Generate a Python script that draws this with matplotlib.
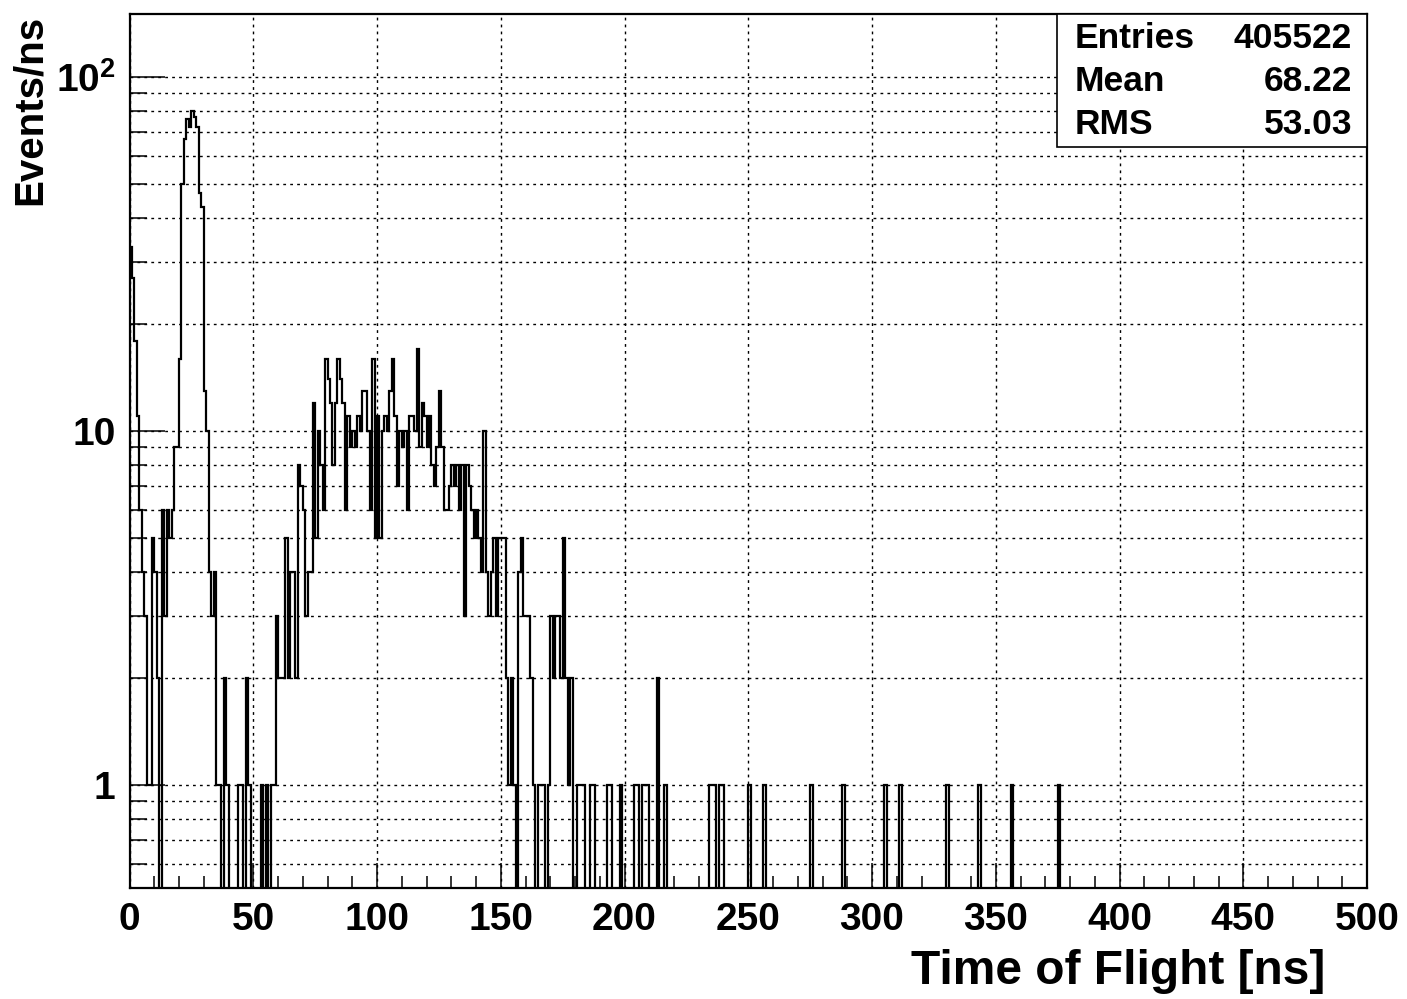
import numpy as np
import matplotlib
matplotlib.use("Agg")
import matplotlib.pyplot as plt
from matplotlib.patches import Rectangle
from matplotlib.ticker import MultipleLocator, FixedLocator, LogLocator, NullFormatter

# counts per 1 ns bin, bins 0..187
counts_head = [
    33, 27, 18, 11, 6, 4, 3, 1, 1, 5,
    4, 2, 0, 6, 3, 6, 5, 6, 9, 9,
    16, 50, 67, 76, 72, 80, 77, 72, 47, 43,
    13, 10, 4, 3, 4, 1, 1, 0, 2, 1,
    0, 0, 0, 0, 1, 1, 0, 2, 1, 0,
    0, 0, 0, 1, 0, 1, 0, 1, 1, 3,
    2, 2, 2, 5, 2, 4, 4, 2, 8, 7,
    6, 3, 4, 4, 12, 5, 10, 8, 6, 16,
    14, 12, 8, 12, 16, 14, 12, 6, 11, 9,
    10, 9, 11, 10, 13, 13, 10, 6, 16, 5,
    11, 5, 10, 11, 10, 13, 16, 11, 7, 10,
    9, 10, 6, 11, 11, 10, 17, 9, 12, 11,
    9, 11, 8, 7, 9, 13, 9, 6, 6, 7,
    8, 7, 8, 6, 8, 3, 8, 7, 6, 5,
    6, 5, 4, 10, 4, 3, 4, 5, 3, 5,
    5, 5, 2, 1, 2, 1, 0, 4, 5, 3,
    3, 3, 2, 1, 0, 1, 1, 1, 0, 1,
    3, 2, 3, 3, 2, 5, 2, 1, 2, 0,
    0, 1, 1, 1, 0, 0, 1, 1,
]
# sparse tail
tail_bins = [193, 194, 198, 204, 205, 207, 208, 209, 213, 216, 234, 235, 236,
             238, 239, 250, 256, 275, 288, 305, 311, 330, 343, 356, 375]
tail_counts = [1, 1, 1, 1, 1, 1, 1, 1, 2, 1, 1, 1, 1,
               1, 1, 1, 1, 1, 1, 1, 1, 1, 1, 1, 1]

stats_names = ["Entries", "Mean", "RMS"]
stats_values = ["405522", "68.22", "53.03"]

plt.rcParams["font.family"] = ["Liberation Sans", "DejaVu Sans"]
plt.rcParams["font.weight"] = "bold"
plt.rcParams["mathtext.fontset"] = "custom"
plt.rcParams["mathtext.rm"] = "Liberation Sans:bold"
plt.rcParams["mathtext.bf"] = "Liberation Sans:bold"
plt.rcParams["mathtext.default"] = "rm"

counts = np.zeros(500)
counts[:len(counts_head)] = counts_head
counts[tail_bins] = tail_counts
edges = np.arange(501)
# empty bins drop below the log axis
plot_vals = np.where(counts > 0, counts, 1e-3)

W, H = 1407, 999
fig = plt.figure(figsize=(W / 100, H / 100), dpi=100)
x0, x1, y0, y1 = 129.5, 1367, 888, 14
ax = fig.add_axes([x0 / W, 1 - y0 / H, (x1 - x0) / W, (y0 - y1) / H])

ax.stairs(plot_vals, edges, baseline=None, color="black", lw=1.6)
ax.set_yscale("log")
ax.set_xlim(0, 500)
ax.set_ylim(0.512, 150.6)

ax.xaxis.set_major_locator(MultipleLocator(50))
ax.xaxis.set_minor_locator(MultipleLocator(10))
ax.yaxis.set_major_locator(FixedLocator([1, 10, 100]))
ax.yaxis.set_minor_locator(LogLocator(base=10, subs=np.arange(2, 10), numticks=20))
ax.yaxis.set_minor_formatter(NullFormatter())
ax.set_yticklabels(["1", "10", r"$10^{2}$"])

dots = (0, (2, 3))
ax.grid(True, axis="x", which="major", ls=dots, color="black", lw=1.0)
ax.grid(True, axis="y", which="both", ls=dots, color="black", lw=1.0)

ax.tick_params(axis="both", which="both", direction="in", width=1.1, labelsize=28)
ax.tick_params(axis="y", which="major", length=25, pad=10)
ax.tick_params(axis="y", which="minor", length=12)
ax.tick_params(axis="x", which="major", length=18, pad=10)
ax.tick_params(axis="x", which="minor", length=9)
for s in ax.spines.values():
    s.set_linewidth(1.6)

fig.text(1325 / W, 1 - 971 / H, "Time of Flight [ns]", ha="right", va="center",
         fontsize=34.5, fontweight="bold")
fig.text(30 / W, 1 - 15 / H, "Events/ns", ha="center", va="top", rotation=90,
         fontsize=29, fontweight="bold")

# stats box
bx0, bx1, by0, by1 = 1057, 1367, 147, 14
fig.add_artist(Rectangle((bx0 / W, 1 - by0 / H), (bx1 - bx0) / W, (by0 - by1) / H,
                         transform=fig.transFigure, facecolor="white",
                         edgecolor="black", lw=1.2, zorder=5))
for i, (n, v) in enumerate(zip(stats_names, stats_values)):
    yy = 1 - (38 + 43.5 * i) / H
    fig.text(1075 / W, yy, n, ha="left", va="center", fontsize=25.5,
             fontweight="bold", zorder=6)
    fig.text(1352 / W, yy, v, ha="right", va="center", fontsize=25.5,
             fontweight="bold", zorder=6)

fig.savefig("out.png", dpi=100)
